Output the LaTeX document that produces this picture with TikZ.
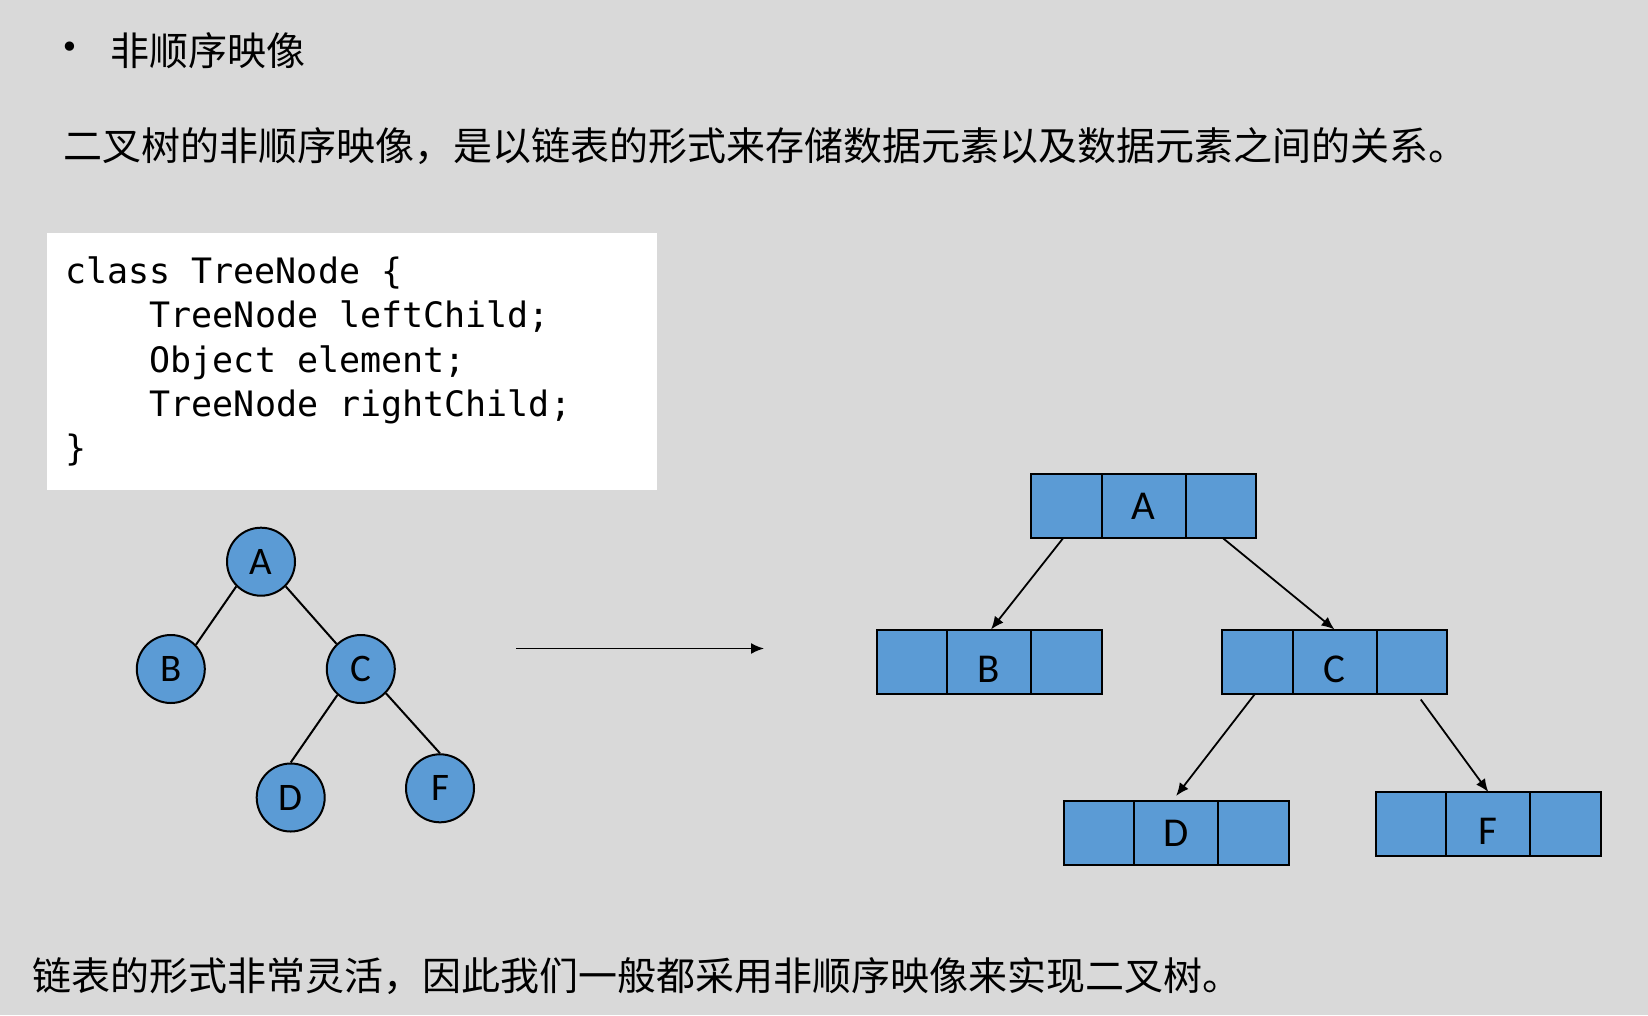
\documentclass[tikz,border=0pt]{standalone}
\usepackage{fontspec}
\usetikzlibrary{arrows.meta}
\newfontfamily\cjkfont{Noto Sans CJK SC}
\newfontfamily\latfont{Carlito}
\newfontfamily\codefont{DejaVu Sans Mono}
\newfontfamily\symfont{DejaVu Sans}
\definecolor{bgray}{HTML}{D9D9D9}
\definecolor{cellblue}{HTML}{5B9BD5}
\tikzset{
  cjktext/.style={anchor=base west, inner sep=0pt, font=\cjkfont\fontsize{39}{39}\selectfont},
  codeline/.style={anchor=base west, inner sep=0pt, font=\codefont\fontsize{35}{35}\selectfont},
  treecirc/.style={circle, draw=black, line width=2pt, fill=cellblue, minimum size=68pt, inner sep=0pt, font=\latfont\fontsize{39}{39}\selectfont},
  sidecell/.style={draw=black, line width=2pt, fill=cellblue, minimum width=70.5pt, minimum height=64pt, inner sep=0pt, outer sep=0pt},
  midcell/.style={sidecell, minimum width=84pt, font=\latfont\fontsize{41}{41}\selectfont},
  lowlabel/.style={text height=41pt, text depth=0pt},
  treeedge/.style={draw=black, line width=2pt},
  ptr/.style={draw=black, line width=1.8pt, -{Latex[length=13pt,width=11pt]}}
}
\begin{document}
\begin{tikzpicture}[x=1pt,y=-1pt]
\useasboundingbox (0,0) rectangle (1648,1015);
\fill[bgray] (0,0) rectangle (1648,1015);
% heading
\node[anchor=center, inner sep=0pt, font=\symfont\fontsize{32}{32}\selectfont] (bul) at (70,50) {•};
\node[cjktext] (title) at (110,65) {非顺序映像};
\node[cjktext] (intro) at (63,160) {二叉树的非顺序映像，是以链表的形式来存储数据元素以及数据元素之间的关系。};
% code box
\node[fill=white, inner sep=0pt, minimum width=610pt, minimum height=257pt, anchor=north west] (codebox) at (47,233) {};
\node[codeline] (c1) at (65,283) {class TreeNode \{};
\node[codeline] (c2) at (149.5,327) {TreeNode leftChild;};
\node[codeline] (c3) at (149.5,372) {Object element;};
\node[codeline] (c4) at (149.5,416) {TreeNode rightChild;};
\node[codeline] (c5) at (65,460) {\}};
% circle tree
\node[treecirc] (A) at (261,561.7) {A};
\node[treecirc] (B) at (170.8,669) {B};
\node[treecirc] (C) at (360.8,669) {C};
\node[treecirc] (D) at (290.7,797.5) {D};
\node[treecirc] (F) at (440,788.3) {F};
\draw[treeedge] (A.225) -- (B.44);
\draw[treeedge] (A.315) -- (C.134);
\draw[treeedge] (C.228) -- (D.north);
\draw[treeedge] (C.316) -- (F.north);
% middle arrow
\coordinate (m1) at (516,648.5);
\coordinate (m2) at (764,648.5);
\draw[ptr] (m1) -- (m2);
% linked records
\node[sidecell, anchor=north west] (Al) at (1031,474) {};
\node[midcell, anchor=west] (Am) at (Al.east) {A};
\node[sidecell, anchor=west] (Ar) at (Am.east) {};
\node[sidecell, anchor=north west] (Bl) at (876.5,629.5) {};
\node[midcell, lowlabel, anchor=west] (Bm) at (Bl.east) {B};
\node[sidecell, anchor=west] (Br) at (Bm.east) {};
\node[sidecell, anchor=north west] (Cl) at (1222,629.5) {};
\node[midcell, lowlabel, anchor=west] (Cm) at (Cl.east) {C};
\node[sidecell, anchor=west] (Cr) at (Cm.east) {};
\node[sidecell, anchor=north west] (Dl) at (1063.6,801) {};
\node[midcell, anchor=west] (Dm) at (Dl.east) {D};
\node[sidecell, anchor=west] (Dr) at (Dm.east) {};
\node[sidecell, anchor=north west] (Fl) at (1375.8,792) {};
\node[midcell, lowlabel, anchor=west] (Fm) at (Fl.east) {F};
\node[sidecell, anchor=west] (Fr) at (Fm.east) {};
\draw[ptr] ([xshift=-3pt]Al.south) -- ([xshift=2pt]Bm.north);
\draw[ptr] ([xshift=2pt]Ar.south) -- ([xshift=0pt]Cm.north);
\draw[ptr] ([xshift=-2pt]Cl.south) -- ([yshift=5pt]Dm.north);
\draw[ptr] ([xshift=9pt,yshift=-6pt]Cr.south) -- (Fm.north);
% bottom text
\node[cjktext] (outro) at (32,990) {链表的形式非常灵活，因此我们一般都采用非顺序映像来实现二叉树。};
\end{tikzpicture}
\end{document}
